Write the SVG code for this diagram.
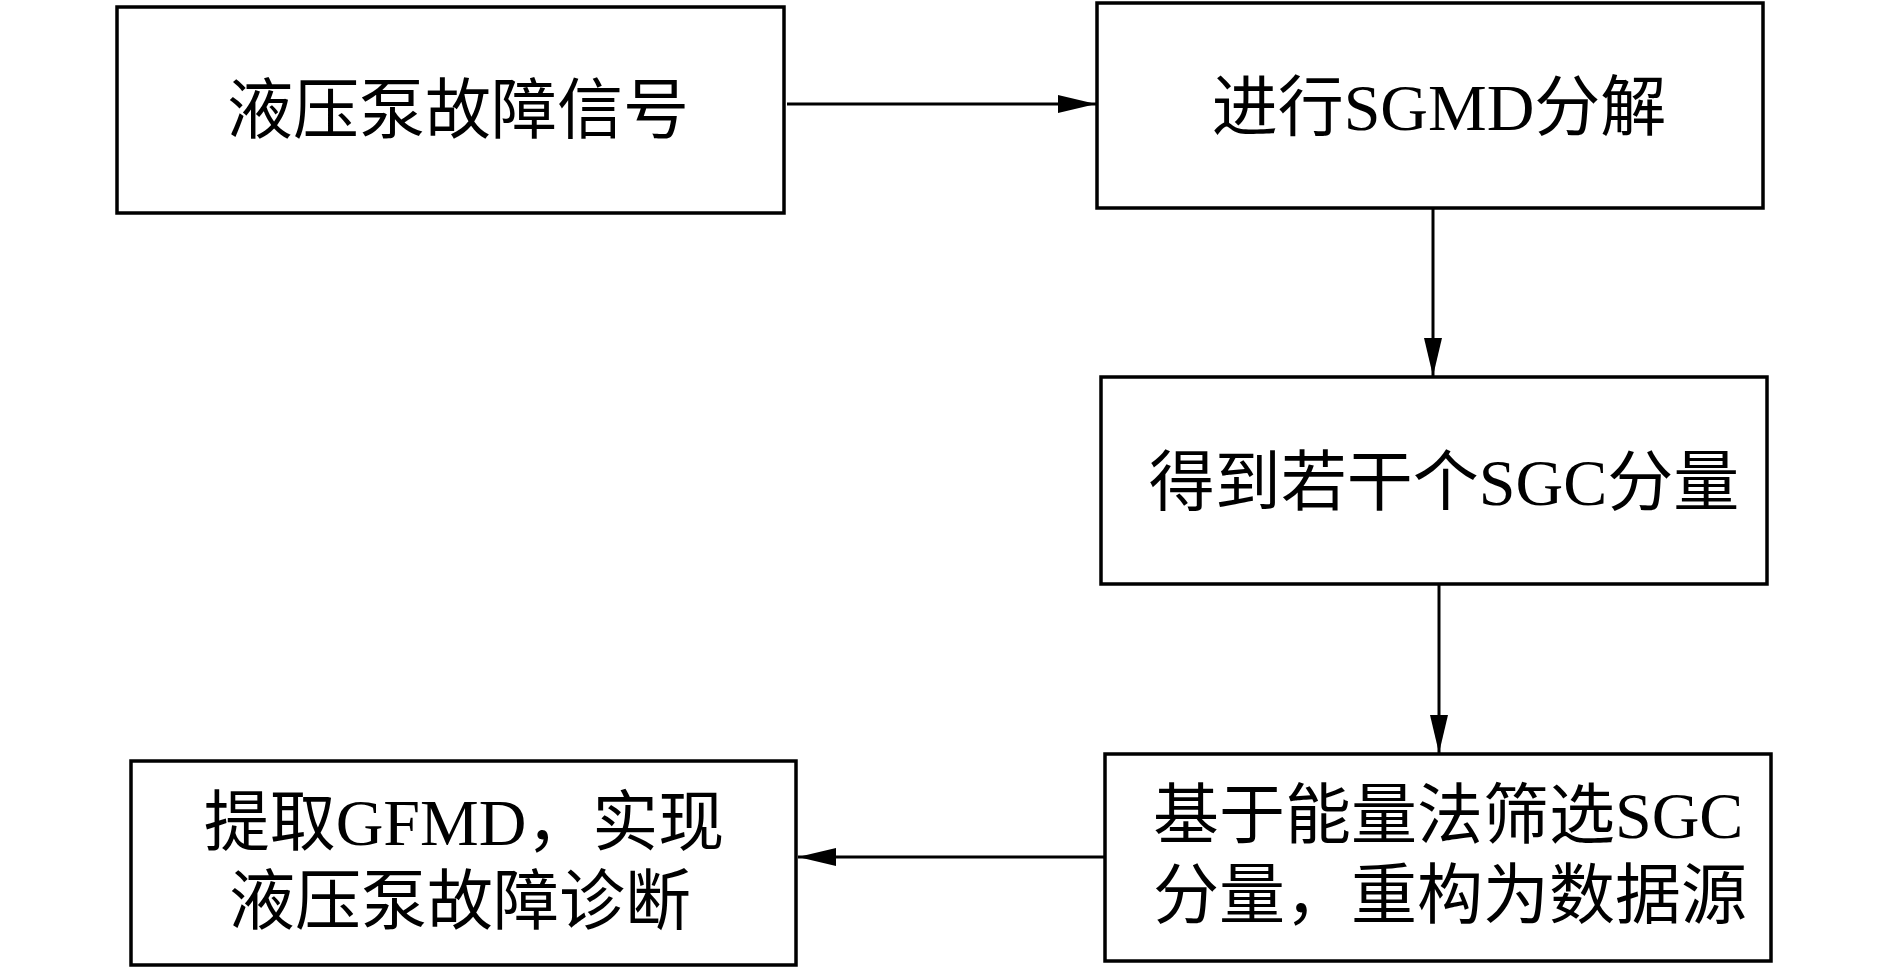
<svg xmlns="http://www.w3.org/2000/svg" width="1890" height="969" viewBox="0 0 1890 969">
<style>
.box{fill:#fff;stroke:#000;stroke-width:3.5}
.t{font-family:"Liberation Serif","Noto Sans CJK SC",serif;font-size:66px;fill:#000}
.c{text-anchor:middle}
.conn{stroke:#000;stroke-width:3;fill:none}
</style>
<defs>
<marker id="ah" markerUnits="userSpaceOnUse" markerWidth="40" markerHeight="20" refX="38" refY="9" orient="auto">
<path d="M0,0 L38,9 L0,18 z" fill="#000"/>
</marker>
</defs>
<rect width="1890" height="969" fill="#fff"/>
<g id="connectors">
<line class="conn" x1="787" y1="104" x2="1096" y2="104" marker-end="url(#ah)"/>
<line class="conn" x1="1433" y1="208" x2="1433" y2="376" marker-end="url(#ah)"/>
<line class="conn" x1="1439" y1="585" x2="1439" y2="753" marker-end="url(#ah)"/>
<line class="conn" x1="1104" y1="857" x2="798" y2="857" marker-end="url(#ah)"/>
</g>
<g id="n1">
<rect class="box" x="117" y="7" width="667" height="206"/>
<text class="t c" x="458" y="133">液压泵故障信号</text>
</g>
<g id="n2">
<rect class="box" x="1097" y="3" width="666" height="205"/>
<text class="t c" x="1439" y="130">进行SGMD分解</text>
</g>
<g id="n3">
<rect class="box" x="1101" y="377" width="666" height="207"/>
<text class="t c" x="1444" y="505">得到若干个SGC分量</text>
</g>
<g id="n4">
<rect class="box" x="1105" y="754" width="666" height="207"/>
<text class="t" x="1153" y="838">基于能量法筛选SGC</text>
<text class="t" x="1153" y="918">分量，重构为数据源</text>
</g>
<g id="n5">
<rect class="box" x="131" y="761" width="665" height="204"/>
<text class="t c" x="464" y="845">提取GFMD，实现</text>
<text class="t c" x="460" y="924">液压泵故障诊断</text>
</g>
</svg>
